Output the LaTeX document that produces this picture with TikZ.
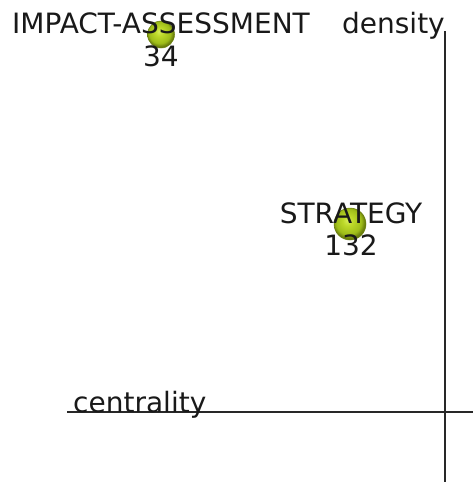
\documentclass[tikz,border=0pt]{standalone}
\usepackage{fontspec}
\setmainfont{DejaVu Sans}
\usepackage{xcolor}
\usepackage{tikz}
\usetikzlibrary{calc}
\usetikzlibrary{positioning}
\definecolor{axisgray}{RGB}{40,40,40}
\definecolor{bubblerim}{RGB}{105,125,15}
\pgfdeclareradialshading{bubbleshade}{\pgfpoint{-4bp}{6bp}}{%
  rgb(0bp)=(0.84,0.93,0.35);
  rgb(8bp)=(0.74,0.85,0.16);
  rgb(20bp)=(0.62,0.74,0.10);
  rgb(25bp)=(0.42,0.50,0.05);
  rgb(50bp)=(0.42,0.50,0.05)}

\begin{document}
\begin{tikzpicture}[x=1pt, y=-1pt,
    bubble/.style={circle, inner sep=0pt, shading=bubbleshade, draw=bubblerim, line width=0.5pt},
    lbl/.style={inner sep=0pt, anchor=base, font=\fontsize{28}{32}\selectfont, text=black!90},
    axis/.style={draw=axisgray, line width=1.6pt}]
\useasboundingbox (0,0) rectangle (473,482);
% axes
\coordinate (xleft)  at ( 67, 412 );
\coordinate (xright) at ( 473, 412 );
\coordinate (ytop)   at ( 445, 31 );
\coordinate (ybot)   at ( 445, 482 );
\draw[axis] (xleft) -- (xright);
\draw[axis] (ytop) -- (ybot);
% themes
\node[bubble, minimum size=27pt]  (impact)   at ( 161, 34.5 ) {};
\node[bubble, minimum size=32pt]  (strategy) at ( 350, 224 )  {};
\node[lbl]                        (impactname)   at ( 161, 33 )  {IMPACT-ASSESSMENT};
\node[lbl]                        (impactnum)    at ( 161, 66 )  {34};
\node[lbl]                        (strategyname) at ( 351, 223 ) {STRATEGY};
\node[lbl]                        (strategynum)  at ( 351, 255 ) {132};
% axis names
\node[lbl, anchor=base east]      (density)    at ( 445, 33 )  {density};
\node[lbl, anchor=base west]      (centrality) at ( 73, 412 )  {centrality};
\end{tikzpicture}
\end{document}
